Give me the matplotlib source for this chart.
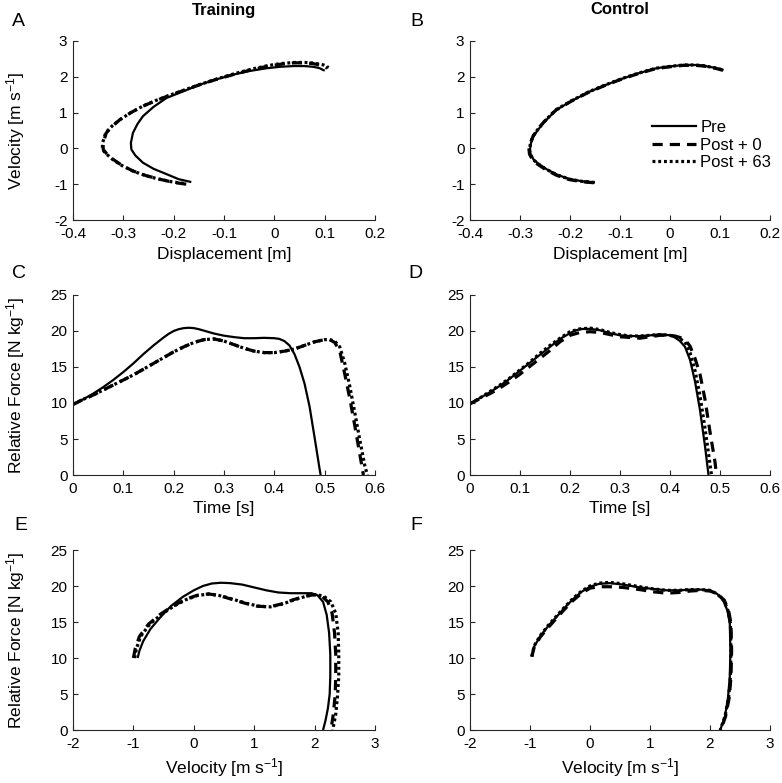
import matplotlib
matplotlib.use("Agg")
import matplotlib.pyplot as plt
from matplotlib.lines import Line2D

plt.rcParams["font.family"] = ["Liberation Sans", "DejaVu Sans"]
plt.rcParams["mathtext.fontset"] = "custom"
plt.rcParams["mathtext.rm"] = "Liberation Sans"
plt.rcParams["mathtext.it"] = "Liberation Sans:italic"
plt.rcParams["axes.unicode_minus"] = False

# ---- panel A: training, displacement vs velocity ----
a_pre_d = [-0.165, -0.19, -0.214, -0.24, -0.261, -0.276, -0.284, -0.285, -0.281, -0.272, -0.261, -0.24,
           -0.214, -0.18, -0.148, -0.115, -0.082, -0.05, -0.015, 0.012, 0.038, 0.06, 0.077, 0.09, 0.1]
a_pre_v = [-0.94, -0.86, -0.72, -0.57, -0.4, -0.2, -0.03, 0.15, 0.43, 0.68, 0.9, 1.16,
           1.41, 1.6, 1.78, 1.93, 2.06, 2.16, 2.24, 2.28, 2.3, 2.3, 2.28, 2.24, 2.17]
a_p0_d = [-0.175, -0.2, -0.228, -0.255, -0.281, -0.302, -0.32, -0.333, -0.34, -0.34, -0.334, -0.322, -0.307,
          -0.285, -0.261, -0.238, -0.214, -0.18, -0.148, -0.115, -0.082, -0.05, -0.015, 0.012, 0.038, 0.06,
          0.077, 0.095, 0.105]
a_p0_v = [-1.0, -0.95, -0.86, -0.76, -0.63, -0.48, -0.31, -0.15, -0.03, 0.15, 0.43, 0.62, 0.8,
          1.0, 1.18, 1.32, 1.45, 1.62, 1.78, 1.93, 2.06, 2.18, 2.29, 2.35, 2.39, 2.39,
          2.37, 2.31, 2.24]
a_p63_d = [-0.18, -0.205, -0.232, -0.258, -0.283, -0.304, -0.322, -0.335, -0.342, -0.341, -0.335, -0.322, -0.306,
           -0.284, -0.26, -0.237, -0.213, -0.179, -0.147, -0.114, -0.081, -0.049, -0.014, 0.013, 0.04, 0.062,
           0.08, 0.098, 0.108]
a_p63_v = [-0.98, -0.93, -0.85, -0.75, -0.62, -0.47, -0.3, -0.14, -0.02, 0.16, 0.44, 0.63, 0.81,
           1.01, 1.19, 1.33, 1.46, 1.63, 1.79, 1.94, 2.08, 2.2, 2.31, 2.37, 2.4, 2.4,
           2.38, 2.33, 2.26]

# ---- panel B: control, displacement vs velocity ----
b_pre_d = [-0.15, -0.175, -0.2, -0.225, -0.247, -0.262, -0.273, -0.279, -0.28, -0.278, -0.273, -0.264, -0.253,
           -0.24, -0.227, -0.195, -0.16, -0.127, -0.093, -0.06, -0.027, 0.0, 0.027, 0.05, 0.067, 0.09, 0.107]
b_pre_v = [-0.95, -0.92, -0.86, -0.74, -0.58, -0.44, -0.31, -0.15, -0.03, 0.15, 0.34, 0.52, 0.71,
           0.9, 1.08, 1.34, 1.59, 1.78, 1.96, 2.11, 2.24, 2.29, 2.33, 2.33, 2.31, 2.25, 2.19]
b_p0_d = [-0.152, -0.177, -0.202, -0.227, -0.249, -0.264, -0.275, -0.281, -0.282, -0.279, -0.274, -0.265, -0.254,
          -0.241, -0.228, -0.196, -0.161, -0.128, -0.094, -0.061, -0.028, 0.0, 0.027, 0.05, 0.068, 0.09, 0.106]
b_p0_v = [-0.96, -0.93, -0.87, -0.75, -0.59, -0.45, -0.32, -0.16, -0.03, 0.15, 0.34, 0.52, 0.71,
          0.9, 1.07, 1.33, 1.58, 1.77, 1.95, 2.1, 2.23, 2.28, 2.32, 2.32, 2.3, 2.24, 2.18]
b_p63_d = [-0.151, -0.176, -0.201, -0.226, -0.248, -0.263, -0.274, -0.28, -0.281, -0.279, -0.274, -0.265, -0.254,
           -0.241, -0.228, -0.196, -0.161, -0.128, -0.094, -0.061, -0.028, 0.0, 0.027, 0.05, 0.067, 0.09, 0.107]
b_p63_v = [-0.95, -0.92, -0.86, -0.74, -0.58, -0.44, -0.31, -0.15, -0.03, 0.15, 0.34, 0.52, 0.71,
           0.9, 1.08, 1.34, 1.59, 1.78, 1.96, 2.11, 2.24, 2.29, 2.33, 2.33, 2.31, 2.25, 2.19]

# ---- panel C: training, force vs time ----
c_pre_t = [0, 0.02, 0.04, 0.06, 0.08, 0.10, 0.12, 0.14, 0.16, 0.18, 0.19, 0.20, 0.21, 0.22, 0.23, 0.24,
           0.25, 0.26, 0.28, 0.30, 0.32, 0.34, 0.36, 0.38, 0.40, 0.41, 0.42, 0.43, 0.44, 0.45, 0.46,
           0.47, 0.48, 0.49, 0.492]
c_pre_f = [9.8, 10.5, 11.3, 12.2, 13.2, 14.3, 15.5, 16.8, 18.0, 19.1, 19.6, 20.0, 20.25, 20.4, 20.45, 20.4,
           20.25, 20.05, 19.65, 19.35, 19.15, 19.0, 19.0, 19.05, 19.0, 18.9, 18.6, 18.0, 16.8, 15.0, 12.7,
           9.5, 5.2, 0.8, 0.0]
c_p0_t = [0, 0.02, 0.04, 0.06, 0.08, 0.10, 0.12, 0.14, 0.16, 0.18, 0.20, 0.22, 0.24, 0.26, 0.28, 0.30,
          0.32, 0.34, 0.36, 0.38, 0.40, 0.42, 0.44, 0.46, 0.48, 0.50, 0.51, 0.52, 0.53, 0.54, 0.55,
          0.56, 0.57, 0.577]
c_p0_f = [9.8, 10.5, 11.1, 11.8, 12.5, 13.2, 13.9, 14.7, 15.5, 16.3, 17.1, 17.8, 18.4, 18.8, 18.9, 18.6,
          18.1, 17.6, 17.2, 17.0, 17.0, 17.2, 17.5, 18.0, 18.5, 18.8, 18.8, 18.4, 17.2, 14.0, 10.6,
          6.8, 2.8, 0.0]
c_p63_t = [0, 0.02, 0.04, 0.06, 0.08, 0.10, 0.12, 0.14, 0.16, 0.18, 0.20, 0.22, 0.24, 0.26, 0.28, 0.30,
           0.32, 0.34, 0.36, 0.38, 0.40, 0.42, 0.44, 0.46, 0.48, 0.50, 0.51, 0.52, 0.53, 0.54, 0.55,
           0.56, 0.57, 0.58, 0.585]
c_p63_f = [9.8, 10.5, 11.1, 11.8, 12.5, 13.2, 13.9, 14.7, 15.5, 16.3, 17.1, 17.8, 18.4, 18.8, 18.9, 18.6,
           18.1, 17.6, 17.2, 17.0, 17.0, 17.2, 17.5, 18.0, 18.5, 18.8, 18.8, 18.6, 17.8, 15.5, 12.3,
           8.6, 4.8, 1.2, 0.0]

# ---- panel D: control, force vs time ----
d_pre_t = [0, 0.02, 0.04, 0.06, 0.08, 0.10, 0.12, 0.14, 0.16, 0.18, 0.20, 0.21, 0.22, 0.23, 0.24, 0.26,
           0.28, 0.30, 0.32, 0.34, 0.36, 0.38, 0.40, 0.41, 0.42, 0.43, 0.44, 0.45, 0.46, 0.47, 0.477]
d_pre_f = [9.9, 10.7, 11.5, 12.4, 13.4, 14.5, 15.6, 16.7, 17.8, 18.9, 19.7, 20.05, 20.25, 20.3, 20.3, 20.1,
           19.7, 19.4, 19.3, 19.3, 19.4, 19.55, 19.4, 19.1, 18.6, 17.8, 16.0, 13.0, 9.0, 4.0, 0.0]
d_p0_t = [0, 0.02, 0.04, 0.06, 0.08, 0.10, 0.12, 0.14, 0.16, 0.18, 0.20, 0.22, 0.24, 0.26, 0.28, 0.30,
          0.32, 0.34, 0.36, 0.38, 0.40, 0.41, 0.42, 0.43, 0.44, 0.45, 0.46, 0.47, 0.48, 0.49, 0.493]
d_p0_f = [9.9, 10.6, 11.3, 12.1, 13.0, 14.0, 15.1, 16.2, 17.3, 18.5, 19.4, 19.8, 19.9, 19.8, 19.5, 19.2,
          19.1, 19.0, 19.2, 19.4, 19.4, 19.3, 19.1, 18.8, 17.9, 16.2, 14.0, 10.5, 6.0, 1.8, 0.0]
d_p63_t = [0, 0.02, 0.04, 0.06, 0.08, 0.10, 0.12, 0.14, 0.16, 0.18, 0.20, 0.22, 0.24, 0.26, 0.28, 0.30,
           0.32, 0.34, 0.36, 0.38, 0.40, 0.41, 0.42, 0.43, 0.44, 0.45, 0.46, 0.47, 0.48, 0.483]
d_p63_f = [9.9, 10.7, 11.6, 12.5, 13.5, 14.6, 15.7, 16.9, 18.0, 19.0, 19.9, 20.3, 20.4, 20.2, 19.8, 19.5,
           19.3, 19.3, 19.4, 19.5, 19.4, 19.2, 18.9, 18.5, 17.0, 14.5, 11.0, 6.5, 1.5, 0.0]

# ---- panel E: training, force vs velocity ----
e_pre_v = [-0.93, -0.90, -0.84, -0.72, -0.56, -0.38, -0.18, 0.0, 0.15, 0.3, 0.45, 0.6, 0.8, 1.0, 1.2, 1.4, 1.6,
           1.8, 1.95, 2.05, 2.14, 2.20, 2.24, 2.26, 2.26, 2.25, 2.22, 2.18, 2.14]
e_pre_f = [10.0, 11.0, 12.3, 14.0, 15.6, 17.2, 18.5, 19.4, 20.0, 20.35, 20.45, 20.4, 20.2, 19.8, 19.4, 19.1, 19.0,
           19.0, 19.0, 18.7, 17.8, 16.0, 13.5, 10.5, 7.5, 5.0, 3.0, 1.3, 0.0]
e_p0_v = [-1.0, -0.97, -0.90, -0.75, -0.55, -0.35, -0.15, 0.05, 0.25, 0.45, 0.65, 0.85, 1.05, 1.25, 1.45,
          1.65, 1.85, 2.0, 2.12, 2.22, 2.29, 2.33, 2.35, 2.35, 2.34, 2.31, 2.27]
e_p0_f = [10.0, 11.3, 13.0, 14.7, 16.1, 17.2, 18.1, 18.7, 18.9, 18.6, 18.1, 17.6, 17.2, 17.1, 17.5,
          18.1, 18.6, 18.8, 18.6, 17.8, 16.2, 13.5, 10.5, 7.5, 4.8, 2.2, 0.0]
e_p63_v = [-0.98, -0.95, -0.88, -0.73, -0.53, -0.33, -0.13, 0.07, 0.27, 0.47, 0.67, 0.87, 1.07, 1.27, 1.47,
           1.67, 1.87, 2.02, 2.15, 2.27, 2.35, 2.39, 2.40, 2.40, 2.38, 2.35, 2.30]
e_p63_f = [10.0, 11.3, 13.0, 14.7, 16.1, 17.2, 18.1, 18.7, 18.9, 18.6, 18.1, 17.6, 17.2, 17.1, 17.5,
           18.1, 18.6, 18.8, 18.6, 17.8, 16.2, 13.5, 10.5, 7.5, 4.8, 2.2, 0.0]

# ---- panel F: control, force vs velocity ----
f_pre_v = [-0.97, -0.93, -0.83, -0.70, -0.56, -0.42, -0.28, -0.14, 0.0, 0.15, 0.33, 0.55, 0.83, 1.05,
           1.28, 1.48, 1.67, 1.85, 2.0, 2.12, 2.22, 2.29, 2.33, 2.34, 2.33, 2.30, 2.25, 2.17]
f_pre_f = [10.2, 11.6, 13.0, 14.4, 15.7, 17.0, 18.2, 19.2, 19.9, 20.3, 20.4, 20.2, 19.8, 19.6,
           19.4, 19.4, 19.5, 19.5, 19.4, 18.9, 18.0, 16.6, 14.8, 11.0, 7.4, 4.5, 1.9, 0.0]
f_p0_v = [-0.97, -0.93, -0.83, -0.70, -0.56, -0.42, -0.28, -0.14, 0.0, 0.15, 0.33, 0.55, 0.83, 1.05,
          1.28, 1.48, 1.67, 1.85, 2.0, 2.13, 2.24, 2.31, 2.35, 2.36, 2.35, 2.32, 2.26, 2.18]
f_p0_f = [10.2, 11.5, 12.9, 14.2, 15.5, 16.8, 18.0, 19.0, 19.7, 19.9, 19.9, 19.8, 19.5, 19.2,
          19.0, 19.1, 19.3, 19.4, 19.3, 18.9, 18.0, 16.6, 14.8, 11.0, 7.4, 4.5, 1.9, 0.0]
f_p63_v = [-0.97, -0.93, -0.83, -0.70, -0.56, -0.42, -0.28, -0.14, 0.0, 0.15, 0.33, 0.55, 0.83, 1.05,
           1.28, 1.48, 1.67, 1.85, 2.0, 2.12, 2.23, 2.30, 2.34, 2.35, 2.34, 2.31, 2.25, 2.17]
f_p63_f = [10.2, 11.7, 13.1, 14.5, 15.8, 17.1, 18.3, 19.3, 20.0, 20.4, 20.5, 20.3, 19.9, 19.6,
           19.4, 19.4, 19.5, 19.5, 19.4, 18.9, 18.0, 16.6, 14.8, 11.0, 7.4, 4.5, 1.9, 0.0]

series_names = ["Pre", "Post + 0", "Post + 63"]

disp_ticks = [-0.4, -0.3, -0.2, -0.1, 0, 0.1, 0.2]
disp_labels = ["-0.4", "-0.3", "-0.2", "-0.1", "0", "0.1", "0.2"]
vel_ticks = [-2, -1, 0, 1, 2, 3]
vel_labels = ["-2", "-1", "0", "1", "2", "3"]
time_ticks = [0, 0.1, 0.2, 0.3, 0.4, 0.5, 0.6]
time_labels = ["0", "0.1", "0.2", "0.3", "0.4", "0.5", "0.6"]
force_ticks = [0, 5, 10, 15, 20, 25]
force_labels = ["0", "5", "10", "15", "20", "25"]

AX_COL = "#262626"
styles = [
    dict(color="black", lw=1.6, ls="-"),
    dict(color="black", lw=2.3, ls=(0, (3.2, 2.2))),
    dict(color="black", lw=2.3, ls=(0, (0.9, 0.9))),
]

fig = plt.figure(figsize=(7.82, 7.83), dpi=100)

W, H = 782.0, 783.0
def make_ax(left, right, top, bottom):
    ax = fig.add_axes([left / W, 1 - bottom / H, (right - left) / W, (bottom - top) / H])
    ax.spines["top"].set_visible(False)
    ax.spines["right"].set_visible(False)
    for s in ("left", "bottom"):
        ax.spines[s].set_color(AX_COL)
        ax.spines[s].set_linewidth(0.8)
    ax.tick_params(direction="in", length=3.5, width=0.8, color=AX_COL, labelsize=11,
                   labelcolor="black")
    ax.tick_params(axis="x", pad=5)
    ax.tick_params(axis="y", pad=4)
    return ax

axA = make_ax(73, 375, 41, 220)
axB = make_ax(470, 770, 41, 220)
axC = make_ax(73, 375, 295, 475)
axD = make_ax(470, 770, 295, 475)
axE = make_ax(73, 375, 550, 730)
axF = make_ax(470, 770, 550, 730)

panels = [
    (axA, [(a_pre_d, a_pre_v), (a_p0_d, a_p0_v), (a_p63_d, a_p63_v)]),
    (axB, [(b_pre_d, b_pre_v), (b_p0_d, b_p0_v), (b_p63_d, b_p63_v)]),
    (axC, [(c_pre_t, c_pre_f), (c_p0_t, c_p0_f), (c_p63_t, c_p63_f)]),
    (axD, [(d_pre_t, d_pre_f), (d_p0_t, d_p0_f), (d_p63_t, d_p63_f)]),
    (axE, [(e_pre_v, e_pre_f), (e_p0_v, e_p0_f), (e_p63_v, e_p63_f)]),
    (axF, [(f_pre_v, f_pre_f), (f_p0_v, f_p0_f), (f_p63_v, f_p63_f)]),
]
for ax, curves in panels:
    for (x, y), st, name in zip(curves, styles, series_names):
        ax.plot(x, y, label=name, solid_capstyle="butt", dash_capstyle="butt",
                solid_joinstyle="round", dash_joinstyle="round", **st)

for ax in (axA, axB):
    ax.set_xlim(-0.4, 0.2)
    ax.set_ylim(-2, 3)
    ax.set_xticks(disp_ticks)
    ax.set_xticklabels(disp_labels)
    ax.set_yticks(vel_ticks)
    ax.set_yticklabels(vel_labels)
    ax.set_xlabel("Displacement [m]", fontsize=12.5, labelpad=4)
for ax in (axC, axD):
    ax.set_xlim(0, 0.6)
    ax.set_ylim(0, 25)
    ax.set_xticks(time_ticks)
    ax.set_xticklabels(time_labels)
    ax.set_yticks(force_ticks)
    ax.set_yticklabels(force_labels)
    ax.set_xlabel("Time [s]", fontsize=12.5, labelpad=4)
for ax in (axE, axF):
    ax.set_xlim(-2, 3)
    ax.set_ylim(0, 25)
    ax.set_xticks(vel_ticks)
    ax.set_xticklabels(vel_labels)
    ax.set_yticks(force_ticks)
    ax.set_yticklabels(force_labels)
    ax.set_xlabel("Velocity [m s$^{-1}$]", fontsize=12.5, labelpad=4)

axA.set_ylabel("Velocity [m s$^{-1}$]", fontsize=12.5)
axC.set_ylabel("Relative Force [N kg$^{-1}$]", fontsize=12.5)
axE.set_ylabel("Relative Force [N kg$^{-1}$]", fontsize=12.5)
for ax in (axA, axC, axE):
    ax.yaxis.set_label_coords(-0.152, 0.5)

handles = [Line2D([], [], **st) for st in styles]
axB.legend(handles, series_names, loc="upper left", bbox_to_anchor=(0.585, 0.595), frameon=False,
           fontsize=12, handlelength=2.6, handletextpad=0.3, labelspacing=0.15, borderaxespad=0)

fig.text(224 / W, 1 - 10 / H, "Training", ha="center", va="center", fontsize=12, fontweight="bold")
fig.text(620 / W, 1 - 10 / H, "Control", ha="center", va="center", fontsize=12, fontweight="bold")
for letter, x, y in [("A", 12, 21), ("B", 410, 21), ("C", 12, 273), ("D", 408, 273),
                     ("E", 14, 525), ("F", 410, 525)]:
    fig.text(x / W, 1 - y / H, letter, ha="left", va="center", fontsize=14)

fig.savefig("out.png", dpi=100)
